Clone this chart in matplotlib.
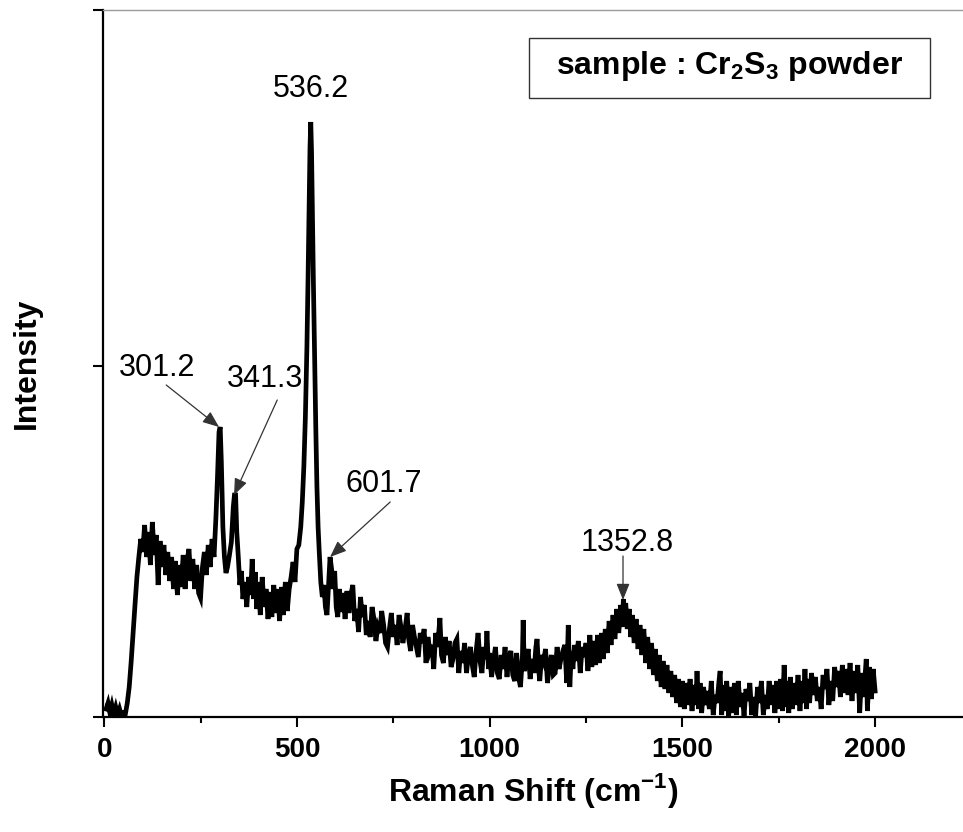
##############################
##### Raman spectrum Cr2S3 ####
##############################
import matplotlib
matplotlib.use("Agg")
import matplotlib.pyplot as plt
from matplotlib.patches import Rectangle

plt.rcParams['font.family'] = ['Liberation Sans', 'DejaVu Sans']
plt.rcParams['mathtext.fontset'] = 'custom'
plt.rcParams['mathtext.rm'] = 'Liberation Sans'
plt.rcParams['mathtext.bf'] = 'Liberation Sans:bold'

# Spectrum (shift in cm-1, intensity in a.u.)
shift = [
    5, 10, 15, 20, 25, 30, 35, 40, 45, 50,
    55, 60, 65, 70, 75, 80, 85, 90, 95, 100,
    105, 110, 115, 120, 125, 130, 135, 140, 145, 150,
    155, 160, 165, 170, 175, 180, 185, 190, 195, 200,
    205, 210, 215, 220, 225, 230, 235, 240, 245, 250,
    255, 260, 265, 270, 275, 280, 285, 290, 294, 298,
    301, 304, 308, 312, 316, 320, 325, 330, 335, 338,
    341, 344, 348, 352, 356, 360, 365, 370, 375, 380,
    384, 388, 392, 396, 400, 405, 410, 415, 420, 425,
    430, 435, 440, 445, 450, 455, 460, 465, 470, 475,
    480, 485, 490, 495, 500, 505, 510, 514, 518, 522,
    526, 529, 532, 534, 536, 538, 540, 543, 546, 549,
    552, 555, 558, 562, 566, 570, 574, 578, 582, 586,
    590, 594, 598, 602, 606, 610, 615, 620, 625, 630,
    635, 640, 645, 650, 655, 660, 665, 670, 675, 680,
    685, 690, 695, 700, 705, 710, 715, 720, 725, 730,
    735, 740, 745, 750, 755, 760, 765, 770, 775, 780,
    786, 790, 795, 800, 805, 810, 815, 820, 825, 830,
    835, 840, 845, 850, 855, 860, 865, 871, 875, 880,
    885, 890, 895, 900, 905, 910, 915, 920, 925, 930,
    935, 940, 945, 950, 955, 960, 965, 970, 975, 980,
    985, 990, 993, 997, 1000, 1005, 1010, 1015, 1020, 1025,
    1030, 1035, 1040, 1045, 1050, 1055, 1060, 1065, 1070, 1075,
    1080, 1085, 1087, 1090, 1095, 1100, 1105, 1110, 1115, 1120,
    1123, 1127, 1130, 1135, 1140, 1145, 1150, 1155, 1160, 1165,
    1170, 1175, 1180, 1185, 1190, 1195, 1200, 1204, 1208, 1212,
    1216, 1220, 1225, 1230, 1235, 1240, 1245, 1250, 1255, 1260,
    1265, 1270, 1275, 1280, 1285, 1290, 1295, 1300, 1305, 1310,
    1315, 1320, 1325, 1330, 1335, 1340, 1344, 1347, 1350, 1353,
    1357, 1362, 1366, 1370, 1375, 1380, 1385, 1390, 1395, 1400,
    1405, 1410, 1415, 1420, 1425, 1430, 1435, 1440, 1445, 1450,
    1455, 1460, 1465, 1470, 1475, 1480, 1485, 1490, 1495, 1500,
    1505, 1510, 1515, 1520, 1525, 1530, 1535, 1538, 1542, 1546,
    1550, 1555, 1560, 1565, 1570, 1575, 1580, 1585, 1590, 1595,
    1598, 1602, 1606, 1610, 1615, 1620, 1625, 1630, 1635, 1640,
    1645, 1650, 1655, 1660, 1665, 1670, 1675, 1680, 1685, 1690,
    1695, 1700, 1705, 1710, 1715, 1720, 1725, 1730, 1735, 1740,
    1745, 1750, 1755, 1760, 1764, 1768, 1772, 1776, 1780, 1785,
    1790, 1795, 1800, 1805, 1810, 1814, 1818, 1822, 1826, 1830,
    1835, 1840, 1845, 1850, 1855, 1860, 1865, 1870, 1875, 1880,
    1885, 1890, 1895, 1900, 1905, 1910, 1915, 1920, 1925, 1930,
    1935, 1940, 1945, 1950, 1955, 1960, 1965, 1970, 1977, 1980,
    1985, 1990, 1995, 2000,
]
intensity = [
    8, 14, 4, 12, 3, 10, 2, 8, 1, 4,
    3, 14, 30, 55, 84, 112, 140, 160, 178, 165,
    192, 160, 185, 152, 195, 162, 182, 132, 176, 150,
    172, 142, 165, 136, 160, 128, 156, 122, 152, 130,
    162, 128, 156, 168, 136, 158, 128, 152, 124, 119,
    150, 165, 142, 172, 150, 178, 160, 200, 240, 285,
    290, 255, 190, 160, 144, 150, 162, 175, 210, 222,
    222, 185, 160, 132, 146, 118, 135, 110, 140, 122,
    158, 118, 145, 108, 135, 102, 140, 110, 128, 98,
    125, 100, 132, 104, 128, 96, 130, 102, 135, 106,
    128, 140, 155, 135, 168, 172, 190, 215, 250, 300,
    370, 440, 520, 570, 595, 565, 510, 430, 360, 290,
    230, 190, 165, 135, 120, 132, 110, 102, 130, 160,
    148, 128, 146, 110, 100, 128, 105, 124, 98, 126,
    104, 122, 132, 96, 108, 85, 120, 100, 112, 82,
    96, 80, 110, 98, 76, 90, 84, 106, 92, 74,
    70, 88, 104, 80, 92, 72, 102, 90, 74, 86,
    104, 78, 66, 92, 80, 70, 60, 84, 74, 88,
    54, 80, 66, 72, 48, 84, 70, 99, 62, 54,
    80, 62, 76, 50, 58, 74, 78, 44, 66, 54,
    74, 44, 62, 70, 52, 40, 66, 84, 56, 44,
    70, 58, 86, 48, 64, 40, 56, 70, 44, 38,
    62, 48, 70, 40, 60, 66, 42, 36, 64, 40,
    30, 60, 97, 46, 54, 68, 38, 58, 44, 70,
    78, 48, 36, 62, 56, 68, 34, 50, 62, 42,
    44, 70, 48, 58, 66, 72, 34, 92, 30, 66,
    48, 72, 56, 76, 44, 70, 60, 74, 46, 82,
    50, 76, 52, 82, 54, 84, 58, 88, 64, 96,
    72, 102, 78, 108, 84, 112, 90, 118, 92, 114,
    88, 108, 80, 102, 74, 98, 68, 92, 62, 88,
    54, 80, 48, 74, 42, 68, 36, 62, 30, 56,
    28, 52, 24, 46, 20, 42, 14, 38, 10, 36,
    8, 34, 12, 38, 6, 32, 12, 46, 8, 34,
    4, 30, 12, 26, 8, 36, 2, 22, 14, 36,
    46, 2, 32, 6, 36, 1, 30, 4, 34, 2,
    36, 10, 24, 1, 28, 16, 34, 2, 20, 1,
    30, 14, 36, 2, 22, 8, 36, 12, 32, 4,
    36, 8, 38, 6, 52, 10, 36, 4, 40, 8,
    34, 12, 42, 6, 36, 14, 48, 8, 38, 14,
    44, 22, 40, 16, 30, 8, 42, 28, 48, 12,
    36, 16, 50, 30, 46, 20, 52, 24, 48, 22,
    54, 16, 46, 24, 52, 4, 44, 20, 58, 6,
    50, 18, 48, 26,
]

# Peak labels: text, text position, arrow start, arrow tip
peak_labels = ["536.2", "301.2", "341.3", "601.7", "1352.8"]
label_xy = [(537, 628), (137, 349), (418, 338), (726, 233), (1357, 174)]
arrow_from = [None, (161, 332), (449, 317), (742, 215), (1346, 161)]
arrow_to = [None, (298, 290), (337, 222), (586, 160), (1346, 117)]

fig = plt.figure(figsize=(9.63, 8.32), dpi=100)
ax = fig.add_axes([103 / 963, 115 / 832, 860 / 963, 707 / 832])

ax.plot(shift, intensity, color="black", lw=3.4, solid_joinstyle="miter")

ax.set_xlim(-3, 2228)
ax.set_ylim(0, 707)
ax.set_xticks([0, 500, 1000, 1500, 2000])
ax.set_xticks([250, 750, 1250, 1750], minor=True)
ax.set_yticks([0, 351, 707])
ax.set_yticklabels([])
ax.tick_params(axis="both", which="major", direction="out", length=7.5, width=1.5)
ax.tick_params(axis="x", which="minor", direction="out", length=4.5, width=1.5)
ax.tick_params(axis="x", labelsize=20, pad=7)
for lab in ax.get_xticklabels():
    lab.set_fontweight("bold")

ax.spines["right"].set_visible(False)
ax.spines["top"].set_color("#9a9a9a")
ax.spines["top"].set_linewidth(1.0)
ax.spines["left"].set_linewidth(1.6)
ax.spines["bottom"].set_linewidth(1.6)

ax.set_xlabel(r"Raman Shift (cm$^{\mathbf{-1}}$)", fontsize=23, fontweight="bold", labelpad=6)
ax.set_ylabel("Intensity", fontsize=23, fontweight="bold")
ax.yaxis.set_label_coords(-0.071, 0.5)

# peak annotations
for txt, pos, a0, a1 in zip(peak_labels, label_xy, arrow_from, arrow_to):
    ax.text(pos[0], pos[1], txt, fontsize=22, ha="center", va="center")
    if a0 is not None:
        ax.annotate("", xy=a1, xytext=a0,
                    arrowprops=dict(arrowstyle="-|>,head_length=1.0,head_width=0.4",
                                    mutation_scale=10, color="#333333", lw=0.9,
                                    shrinkA=0, shrinkB=0))

# sample box
fig.add_artist(Rectangle((529 / 963, 734 / 832), 401 / 963, 60 / 832,
                         transform=fig.transFigure, fill=False,
                         edgecolor="#333333", lw=1.0))
fig.text(730 / 963, 766 / 832, r"sample : Cr$_\mathbf{2}$S$_\mathbf{3}$ powder",
         fontsize=23, fontweight="bold", ha="center", va="center")

fig.savefig("out.png", dpi=100)
